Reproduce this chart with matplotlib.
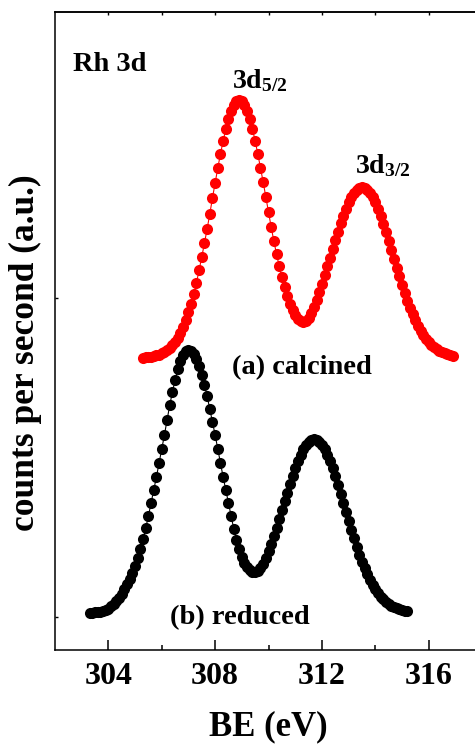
import numpy as np
import matplotlib
matplotlib.use("Agg")
import matplotlib.pyplot as plt

# Rh 3d XPS spectra, binding energy grid start (eV) and step
be_step = 0.1
calcined_start = 305.3
reduced_start = 303.3

# (a) calcined, counts (a.u.)
calcined_counts = [
    292, 293, 293, 293, 294, 295, 295, 297, 298, 300,
    302, 305, 308, 312, 317, 323, 330, 338, 346, 356,
    367, 380, 393, 407, 421, 436, 452, 467, 482, 496,
    509, 521, 531, 539, 545, 549, 550, 549, 545, 539,
    531, 521, 509, 496, 482, 468, 453, 438, 423, 409,
    396, 384, 373, 363, 354, 346, 340, 335, 331, 329,
    328, 329, 332, 337, 343, 350, 358, 366, 375, 384,
    392, 401, 410, 418, 427, 434, 441, 448, 453, 457,
    460, 462, 463, 462, 460, 457, 453, 448, 441, 434,
    426, 418, 409, 400, 391, 382, 374, 365, 357, 349,
    342, 336, 330, 324, 319, 315, 311, 308, 305, 303,
    301, 299, 298, 297, 296, 295, 294,
]

# (b) reduced, counts (a.u.)
reduced_counts = [
    37, 37, 38, 38, 38, 39, 40, 41, 44, 46,
    49, 52, 56, 61, 66, 71, 77, 84, 92, 101,
    111, 122, 134, 147, 160, 173, 187, 201, 215, 230,
    245, 258, 270, 281, 289, 295, 299, 300, 299, 296,
    291, 284, 275, 265, 254, 241, 228, 215, 201, 187,
    173, 160, 147, 134, 121, 110, 101, 93, 87, 83,
    80, 78, 78, 79, 82, 86, 92, 99, 106, 114,
    122, 131, 140, 149, 157, 166, 174, 182, 189, 195,
    201, 205, 208, 210, 211, 210, 208, 205, 201, 195,
    189, 182, 174, 165, 156, 147, 138, 129, 120, 112,
    103, 95, 88, 82, 76, 70, 65, 61, 57, 53,
    51, 48, 46, 44, 43, 42, 41, 40, 39, 39,
]

x_major = [304, 308, 312, 316]
x_minor = [306, 310, 314]
x_labels = ["304", "308", "312", "316"]
y_ticks = [33, 352]

calcined_be = np.round(calcined_start + be_step * np.arange(len(calcined_counts)), 2)
reduced_be = np.round(reduced_start + be_step * np.arange(len(reduced_counts)), 2)

plt.rcParams["font.family"] = ["Liberation Serif", "DejaVu Serif"]
plt.rcParams["font.weight"] = "bold"
plt.rcParams["mathtext.default"] = "regular"

fig = plt.figure(figsize=(4.75, 7.44), dpi=100)
ax = fig.add_axes([55 / 475, 94 / 744, 427 / 475, 638 / 744])

ax.plot(calcined_be, calcined_counts, "-o", color="#ff0000", lw=0.8,
        ms=8.0, mew=0, zorder=3)
ax.plot(reduced_be, reduced_counts, "-o", color="#000000", lw=0.8,
        ms=8.0, mew=0, zorder=3)

ax.set_xlim(302, 318)
ax.set_ylim(0, 638)

ax.set_xticks(x_major)
ax.set_xticklabels(x_labels)
ax.set_xticks(x_minor, minor=True)
ax.set_yticks(y_ticks)
ax.set_yticklabels([])

for s in ax.spines.values():
    s.set_linewidth(1.1)

ax.tick_params(axis="x", which="major", direction="in", length=7, width=1.1,
               labelsize=23, pad=9)
ax.tick_params(axis="x", which="minor", direction="in", length=3.6, width=1.1)
ax.tick_params(axis="y", which="major", direction="in", length=2.5, width=1.0)
for lab in ax.get_xticklabels():
    lab.set_fontweight("bold")

top = ax.secondary_xaxis("top")
top.set_xticks(x_major + x_minor)
top.set_xticklabels([])
top.tick_params(direction="in", length=2.5, width=1.0)
top.spines["top"].set_linewidth(1.1)

fig.text(25 / 475, 1 - 353 / 744, "counts per second (a.u.)", rotation=90,
         ha="center", va="center", fontsize=25.5, fontweight="bold")
fig.text(268 / 475, 1 - 727 / 744, "BE (eV)", ha="center", va="center",
         fontsize=25, fontweight="bold")

ax.text(0.042, 0.9075, "Rh 3d", transform=ax.transAxes, ha="left",
        va="baseline", fontsize=20.5, fontweight="bold")
ax.text(0.4145, 0.881, "3d$_{5/2}$", transform=ax.transAxes, ha="left",
        va="baseline", fontsize=20, fontweight="bold")
ax.text(0.7026, 0.7476, "3d$_{3/2}$", transform=ax.transAxes, ha="left",
        va="baseline", fontsize=20, fontweight="bold")
ax.text(0.4145, 0.4326, "(a) calcined", transform=ax.transAxes, ha="left",
        va="baseline", fontsize=20.5, fontweight="bold")
ax.text(0.2693, 0.0408, "(b) reduced", transform=ax.transAxes, ha="left",
        va="baseline", fontsize=20.5, fontweight="bold")

fig.savefig("out.png", dpi=100)
